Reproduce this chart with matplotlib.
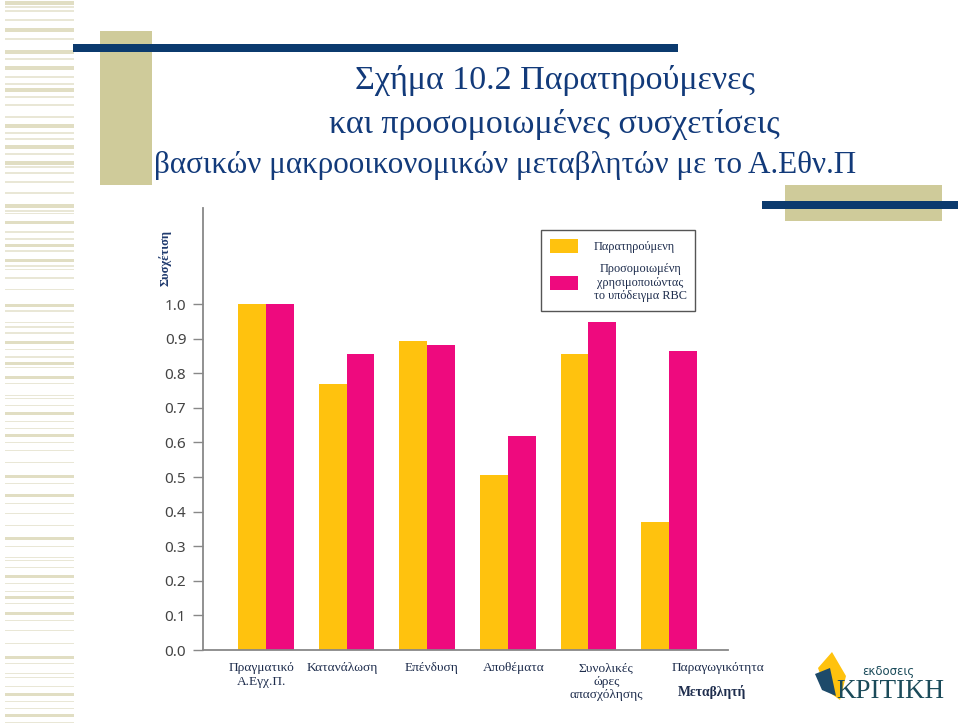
import numpy as np
import matplotlib
matplotlib.use("Agg")
from matplotlib import pyplot as plt
from matplotlib.patches import Rectangle, Polygon

categories = ["Πραγματικό\nΑ.Εγχ.Π.", "Κατανάλωση", "Επένδυση", "Αποθέματα",
              "Συνολικές\nώρες\nαπασχόλησης", "Παραγωγικότητα"]
observed = [1.00, 0.77, 0.894, 0.506, 0.855, 0.369]
simulated = [1.00, 0.856, 0.882, 0.619, 0.949, 0.864]
yticks = [0.0, 0.1, 0.2, 0.3, 0.4, 0.5, 0.6, 0.7, 0.8, 0.9, 1.0]
label_dx = [-0.05, -0.05, 0.06, 0.07, 0.22, 0.6]

W, H = 960, 725
yellow = "#FFC20E"
pink = "#EE0A7E"
navy = "#0B3A6E"
beige = "#CFCB9A"
text_c = "#1E2D4D"

fig = plt.figure(figsize=(W / 100, H / 100), dpi=100)


def rect(x0, y0, x1, y1, color, z=0):
    # pixel box measured from the top-left corner
    r = Rectangle((x0 / W, 1 - y1 / H), (x1 - x0) / W, (y1 - y0) / H,
                  transform=fig.transFigure, color=color, lw=0, zorder=z)
    fig.add_artist(r)


# left striped border
stripes = [(3, 3), (7, 1), (11, 1), (20, 1), (30, 3), (39, 1), (52, 3), (59, 1),
           (68, 3), (77, 1), (84, 1), (90, 3), (97, 1), (105, 1), (117, 1),
           (126, 3), (133, 1), (139, 1), (147, 3), (154, 1), (163, 3), (167, 1),
           (173, 1), (182, 1), (193, 1), (206, 3), (211, 1), (213, 1), (223, 3),
           (232, 1), (239, 1), (245, 3), (251, 1), (261, 3), (266, 1), (269, 1),
           (278, 1), (290, 1), (305, 3), (311, 1), (323, 1), (327, 1), (333, 1),
           (342, 3), (349, 1), (357, 1), (363, 3), (368, 1), (377, 3), (383, 1),
           (395, 1), (398, 1), (405, 1), (413, 3), (421, 1), (428, 1), (435, 3),
           (442, 1), (450, 1), (462, 1), (476, 3), (483, 1), (495, 3), (503, 1),
           (513, 1), (525, 1), (538, 3), (546, 1), (557, 1), (560, 1), (567, 1),
           (576, 3), (583, 1), (591, 1), (597, 3), (603, 1), (613, 3), (620, 1),
           (630, 1), (643, 1), (657, 3), (663, 1), (673, 1), (677, 1), (686, 1),
           (694, 3), (701, 1), (708, 1), (715, 3), (722, 1)]
for sy, th in stripes:
    c = "#E1DEC3" if th > 1 else "#E9E7D6"
    rect(5, sy - th / 2, 74, sy + th / 2, c)

rect(100, 31, 152, 185, beige, 1)
rect(73, 44, 678, 52, navy, 2)
rect(785, 185, 942, 221, beige, 1)
rect(762, 201, 958, 209, navy, 2)

# title
title_lines = ["Σχήμα 10.2 Παρατηρούμενες", "και προσομοιωμένες συσχετίσεις",
               "βασικών μακροοικονομικών μεταβλητών με το Α.Εθν.Π"]
for line, cx, cy, fs in zip(title_lines, [555, 554, 505], [80, 124, 166],
                            [24.5, 24.5, 22.4]):
    fig.text(cx / W, 1 - cy / H, line, ha="center", va="center",
             fontsize=fs, family="Liberation Serif", color="#123A7A")

# chart
ax = fig.add_axes([203 / W, 1 - 650 / H, 525 / W, 442 / H])
x = np.arange(len(categories))
w = 0.344
ax.bar(x - w / 2, observed, w, color=yellow, label="Παρατηρούμενη")
ax.bar(x + w / 2, simulated, w, color=pink,
       label="Προσομοιωμένη\nχρησιμοποιώντας\nτο υπόδειγμα RBC")
ax.set_xlim(-0.78, 5.73)
ax.set_ylim(0, 1.278)
ax.set_yticks(yticks)
ax.set_yticklabels([f"{t:.1f}" for t in yticks], family="Noto Sans",
                   fontsize=11, color="#444444")
ax.tick_params(axis="y", length=7, width=1, color="#888888", pad=5)
ax.set_xticks(x + np.array(label_dx))
ax.set_xticklabels(categories, family="Liberation Serif", fontsize=9.6,
                   color=text_c, linespacing=1.15)
ax.tick_params(axis="x", length=0, pad=9)
for s in ["top", "right"]:
    ax.spines[s].set_visible(False)
for s in ["left", "bottom"]:
    ax.spines[s].set_color("#888888")
    ax.spines[s].set_linewidth(1.3)

leg = ax.legend(loc="upper left", bbox_to_anchor=(541 / W, 1 - 230 / H),
                bbox_transform=fig.transFigure, borderaxespad=0,
                fancybox=False, framealpha=1, edgecolor="#555555",
                prop={"family": "Liberation Serif", "size": 8.8},
                handlelength=2.3, handleheight=1.45, handletextpad=1.3,
                labelspacing=0.8, borderpad=0.7)
leg.get_frame().set_linewidth(1.0)
for t in leg.get_texts():
    t.set_multialignment("center")
    t.set_color(text_c)

fig.text(165 / W, 1 - 258 / H, "Συσχέτιση", rotation=90, ha="center",
         va="center", fontsize=9, fontweight="bold", family="Liberation Serif",
         color="#1F3A6E")
fig.text(712 / W, 1 - 692 / H, "Μεταβλητή", ha="center", va="center",
         fontsize=9.8, fontweight="bold", family="Liberation Serif",
         color=text_c)

# publisher logo
logo_c = "#1B4B5A"
fig.add_artist(Polygon([(818 / W, 1 - 668 / H), (832 / W, 1 - 652 / H),
                        (846 / W, 1 - 676 / H), (840 / W, 1 - 700 / H),
                        (826 / W, 1 - 690 / H)], closed=True,
                       transform=fig.transFigure, color=yellow, lw=0))
fig.add_artist(Polygon([(815 / W, 1 - 674 / H), (830 / W, 1 - 668 / H),
                        (836 / W, 1 - 696 / H), (822 / W, 1 - 690 / H)],
                       closed=True, transform=fig.transFigure, color="#1D4A6A",
                       lw=0))
fig.text(888 / W, 1 - 672 / H, "εκδοσεις", ha="center", va="center",
         fontsize=8.5, family="DejaVu Sans", color=logo_c)
fig.text(890 / W, 1 - 691 / H, "ΚΡΙΤΙΚΗ", ha="center", va="center",
         fontsize=19.5, family="Liberation Serif", color=logo_c)

fig.savefig("out.png", dpi=100)
